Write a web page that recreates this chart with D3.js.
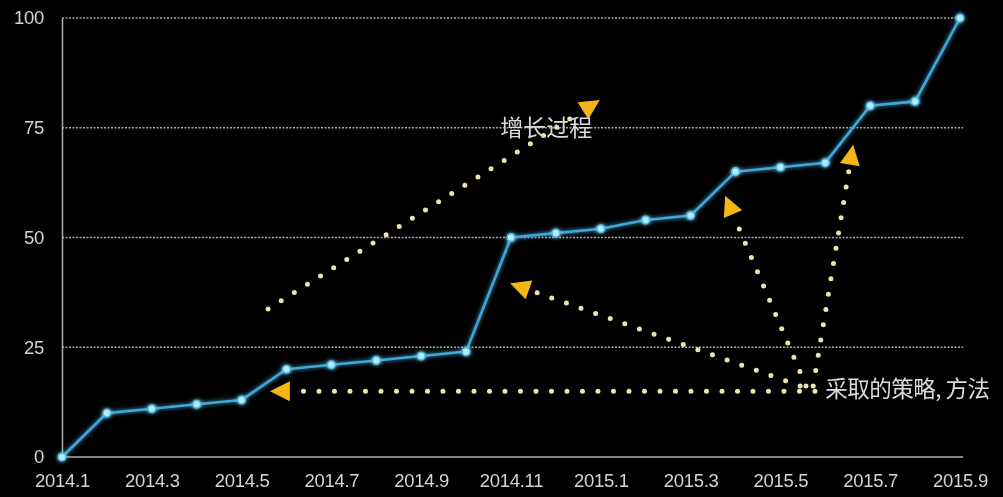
<!DOCTYPE html>
<html>
<head>
<meta charset="utf-8">
<script src="https://cdn.jsdelivr.net/npm/d3@7/dist/d3.min.js"></script>
<style>
  html, body { margin: 0; padding: 0; background: #000; }
  svg { display: block; }
</style>
</head>
<body>
<svg id="chart" width="1003" height="497"></svg>
<script>
// Monthly periods, Jan 2014 – Sep 2015
const months = ["2014.1","2014.2","2014.3","2014.4","2014.5","2014.6","2014.7","2014.8","2014.9","2014.10","2014.11","2014.12",
                "2015.1","2015.2","2015.3","2015.4","2015.5","2015.6","2015.7","2015.8","2015.9"];
const values = [0, 10, 11, 12, 13, 20, 21, 22, 23, 24, 50, 51, 52, 54, 55, 65, 66, 67, 80, 81, 100];
const xTickLabels = ["2014.1","2014.3","2014.5","2014.7","2014.9","2014.11","2015.1","2015.3","2015.5","2015.7","2015.9"];
const yTicks = [0, 25, 50, 75, 100];

// Dotted annotation arrows: [fromMonthIndex, fromValue, toMonthIndex, toValue]
const growthArrow = [4.59, 33.7, 11.98, 81.3];
const strategyArrows = [
  [16.77, 15.0, 4.63, 15.0],
  [16.44, 16.2, 9.98, 39.6],
  [16.57, 16.2, 14.77, 59.5],
  [16.73, 16.2, 17.62, 71.1]
];
const growthLabel = "增长过程";
const strategyLabel = "采取的策略, 方法";

const svg = d3.select("#chart");
const margin = { left: 62, right: 41, top: 18, bottom: 40 };
const W = 1003, H = 497;

const x = d3.scaleLinear().domain([0, months.length - 1]).range([margin.left, W - margin.right - 2]);
const y = d3.scaleLinear().domain([0, 100]).range([H - margin.bottom, margin.top]);

// Filters use a generous user-space region so they never clip thin or offset marks
function addFilter(id) {
  return svg.select("defs").append("filter").attr("id", id)
    .attr("filterUnits", "userSpaceOnUse")
    .attr("x", -W).attr("y", -H).attr("width", 3 * W).attr("height", 3 * H);
}
svg.append("defs");
const glow = addFilter("glow");
glow.append("feGaussianBlur").attr("stdDeviation", 2).attr("result", "b");
const m = glow.append("feMerge");
m.append("feMergeNode").attr("in", "b");
m.append("feMergeNode").attr("in", "SourceGraphic");

const soft = addFilter("soft");
soft.append("feGaussianBlur").attr("stdDeviation", 0.45);

const font = "'Liberation Sans', Arial, sans-serif";

// Horizontal grid lines
svg.append("g")
  .selectAll("line")
  .data(yTicks.filter(d => d > 0))
  .join("line")
  .attr("x1", x(0)).attr("x2", W - 40)
  .attr("y1", d => y(d)).attr("y2", d => y(d))
  .attr("stroke", "#a8a8a8")
  .attr("stroke-width", 1.3)
  .attr("stroke-dasharray", "2,1.5");

// X axis
const xIndex = xTickLabels.map(l => months.indexOf(l));
const xAxis = d3.axisBottom(x).tickValues(xIndex).tickFormat(i => months[i]).tickSize(0).tickPadding(17);
const gx = svg.append("g").attr("transform", `translate(0,${y(0)})`).call(xAxis);
gx.select(".domain").attr("d", `M${x(0)},0H${W - 40}`).attr("stroke", "#b0b0b0").attr("stroke-width", 1.5);
gx.selectAll("text")
  .attr("fill", "#d4d4d4")
  .attr("font-family", font)
  .attr("font-size", 18.5)
  .attr("letter-spacing", -0.3)
  .attr("filter", "url(#soft)");

// Y axis
const yAxis = d3.axisLeft(y).tickValues(yTicks).tickSize(0).tickPadding(18);
const gy = svg.append("g").attr("transform", `translate(${x(0)},0)`).call(yAxis);
gy.select(".domain").attr("stroke", "#b0b0b0").attr("stroke-width", 1.5);
gy.selectAll("text")
  .attr("fill", "#d4d4d4")
  .attr("font-family", font)
  .attr("font-size", 18.5)
  .attr("letter-spacing", -0.3)
  .attr("filter", "url(#soft)");

// Dotted arrow with a triangular head at its end
function dottedArrow(g, a) {
  const x1 = x(a[0]), y1 = y(a[1]), x2 = x(a[2]), y2 = y(a[3]);
  const ang = Math.atan2(y2 - y1, x2 - x1);
  const headLen = 20, headW = 10;
  const bx = x2 - headLen * Math.cos(ang), by = y2 - headLen * Math.sin(ang);
  g.append("line")
    .attr("x1", x1).attr("y1", y1)
    .attr("x2", bx - 6 * Math.cos(ang)).attr("y2", by - 6 * Math.sin(ang))
    .attr("stroke", "#ece4aa")
    .attr("stroke-width", 5)
    .attr("stroke-linecap", "round")
    .attr("stroke-dasharray", "0,15.5");
  const px = -Math.sin(ang), py = Math.cos(ang);
  g.append("path")
    .attr("d", `M${x2},${y2}L${bx + px * headW},${by + py * headW}L${bx - px * headW},${by - py * headW}Z`)
    .attr("fill", "#f6b516")
    .attr("filter", "url(#soft)");
}

const ann = svg.append("g");
dottedArrow(ann, growthArrow);
strategyArrows.forEach(a => dottedArrow(ann, a));

// Data line and markers
const line = d3.line().x((d, i) => x(i)).y(d => y(d));
svg.append("path")
  .datum(values)
  .attr("d", line)
  .attr("fill", "none")
  .attr("stroke", "#3fa6d6")
  .attr("stroke-width", 2.6)
  .attr("filter", "url(#glow)");

svg.append("g")
  .selectAll("circle")
  .data(values)
  .join("circle")
  .attr("cx", (d, i) => x(i))
  .attr("cy", d => y(d))
  .attr("r", 3.8)
  .attr("fill", "#b8ecff")
  .attr("stroke", "#4cbce8")
  .attr("stroke-width", 1.5)
  .attr("filter", "url(#glow)");

// Annotation labels
svg.append("text")
  .attr("x", x(9.76)).attr("y", y(73.2))
  .attr("fill", "#dadada")
  .attr("font-family", "'Noto Sans CJK SC', sans-serif")
  .attr("font-size", 23)
  .attr("filter", "url(#soft)")
  .text(growthLabel);

svg.append("text")
  .attr("x", x(17.0)).attr("y", y(13.6))
  .attr("fill", "#dadada")
  .attr("font-family", "'Noto Sans CJK SC', sans-serif")
  .attr("font-size", 22.5)
  .attr("letter-spacing", -0.5)
  .attr("filter", "url(#soft)")
  .text(strategyLabel);
</script>
</body>
</html>
